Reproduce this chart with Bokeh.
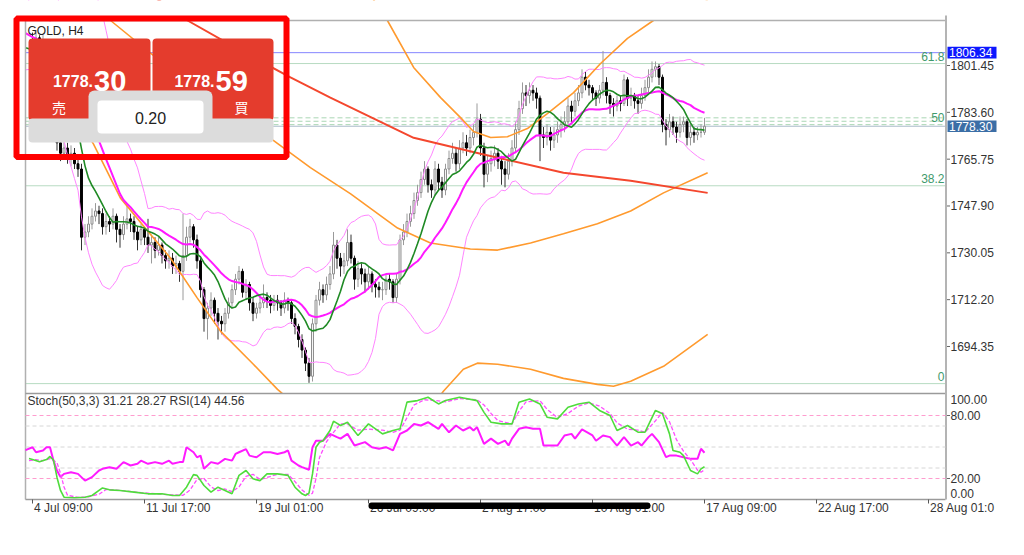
import numpy as np
import pandas as pd
from bokeh.plotting import figure
from bokeh.models import Range1d, ColumnDataSource
from bokeh.core.properties import value
from bokeh.embed import file_html
from bokeh.resources import INLINE

# ---------------------------------------------------------------- data
symbol_title = "GOLD, H4"
sub_title = "Stoch(50,3,3) 31.21 28.27 RSI(14) 44.56"

pre_close = [1828, 1825, 1822, 1824, 1820, 1817, 1819, 1821, 1818, 1815, 1812,
             1814, 1816, 1810, 1806, 1803, 1800, 1805, 1809, 1808, 1811, 1810]

closes = [
    1808, 1812, 1807, 1810, 1806, 1803, 1788, 1772, 1768, 1770,
    1766, 1768, 1764, 1762, 1736, 1738, 1741, 1744, 1746, 1745,
    1740, 1742, 1741, 1744, 1739, 1737, 1741, 1743, 1742, 1738,
    1735, 1739, 1736, 1733, 1734, 1731, 1733, 1729, 1727, 1728,
    1725, 1726, 1723, 1729, 1736, 1740, 1735, 1727, 1716, 1705,
    1709, 1712, 1707, 1704, 1703, 1707, 1711, 1716, 1720, 1723,
    1715, 1718, 1711, 1707, 1709, 1711, 1713, 1712, 1710, 1712,
    1711, 1709, 1712, 1711, 1705, 1702, 1697, 1693, 1688, 1683,
    1703, 1712, 1716, 1714, 1718, 1722, 1733, 1728, 1725, 1727,
    1734, 1728, 1720, 1724, 1722, 1719, 1722, 1718, 1717, 1716,
    1716, 1720, 1719, 1713, 1720, 1735, 1738, 1742, 1745, 1750,
    1753, 1758, 1762, 1756, 1754, 1762, 1757, 1754, 1762, 1766,
    1768, 1764, 1770, 1772, 1770, 1774, 1776, 1781, 1770, 1760,
    1764, 1766, 1768, 1765, 1762, 1760, 1765, 1770, 1777, 1785,
    1791, 1790, 1792, 1791, 1789, 1775, 1774, 1776, 1773, 1775,
    1777, 1779, 1780, 1786, 1784, 1788, 1791, 1797, 1794, 1793,
    1791, 1789, 1792, 1795, 1790, 1787, 1786, 1788, 1787, 1796,
    1789, 1790, 1788, 1787, 1790, 1793, 1797, 1800, 1801, 1797,
    1779, 1777, 1780, 1778, 1776, 1779, 1780, 1774, 1776, 1775,
    1776, 1776, 1778.30]

highs = [
    1814, 1815, 1813, 1813, 1811, 1808, 1805, 1790, 1775, 1773,
    1772, 1771, 1770, 1767, 1764, 1741, 1744, 1747, 1749, 1748,
    1747, 1745, 1744, 1747, 1745, 1741, 1744, 1749, 1745, 1744,
    1740, 1741, 1740, 1743, 1737, 1736, 1736, 1734, 1731, 1731,
    1730, 1729, 1727, 1745, 1740, 1743, 1741, 1737, 1728, 1717,
    1711, 1715, 1713, 1709, 1706, 1709, 1713, 1718, 1722, 1725,
    1724, 1720, 1719, 1713, 1711, 1714, 1718, 1715, 1714, 1714,
    1714, 1712, 1715, 1713, 1712, 1707, 1703, 1699, 1694, 1690,
    1705, 1714, 1719, 1718, 1721, 1725, 1738, 1735, 1730, 1730,
    1739, 1737, 1729, 1727, 1726, 1724, 1725, 1723, 1720, 1719,
    1719, 1722, 1722, 1720, 1722, 1737, 1741, 1745, 1748, 1753,
    1756, 1761, 1765, 1763, 1758, 1765, 1764, 1759, 1764, 1769,
    1772, 1770, 1773, 1776, 1775, 1777, 1779, 1787, 1783, 1772,
    1767, 1769, 1771, 1770, 1767, 1765, 1768, 1773, 1780, 1788,
    1795, 1794, 1795, 1794, 1793, 1790, 1778, 1779, 1778, 1778,
    1780, 1782, 1784, 1789, 1788, 1791, 1794, 1800, 1799, 1796,
    1794, 1792, 1794, 1807, 1797, 1791, 1789, 1790, 1790, 1798,
    1797, 1793, 1791, 1790, 1793, 1796, 1800, 1803, 1803, 1802,
    1798, 1781, 1783, 1782, 1780, 1782, 1782, 1781, 1779, 1778,
    1778, 1779, 1781.5]

lows = [
    1805, 1806, 1804, 1805, 1803, 1800, 1785, 1769, 1765, 1766,
    1764, 1763, 1762, 1759, 1731, 1733, 1736, 1739, 1742, 1741,
    1737, 1737, 1738, 1739, 1734, 1732, 1735, 1739, 1738, 1735,
    1731, 1733, 1733, 1730, 1726, 1728, 1729, 1726, 1724, 1724,
    1722, 1722, 1719, 1712, 1727, 1734, 1732, 1724, 1713, 1700,
    1697, 1706, 1703, 1697, 1699, 1700, 1705, 1709, 1714, 1718,
    1713, 1712, 1708, 1704, 1705, 1707, 1709, 1709, 1707, 1708,
    1708, 1706, 1707, 1708, 1703, 1699, 1694, 1690, 1685, 1680.5,
    1681, 1700, 1710, 1711, 1712, 1716, 1720, 1724, 1721, 1722,
    1725, 1726, 1716, 1717, 1718, 1715, 1716, 1715, 1713, 1713,
    1712, 1714, 1716, 1711, 1711, 1718, 1733, 1736, 1740, 1743,
    1748, 1751, 1756, 1753, 1751, 1752, 1754, 1751, 1752, 1760,
    1764, 1761, 1762, 1768, 1767, 1768, 1771, 1774, 1767, 1755,
    1757, 1761, 1763, 1762, 1756, 1755, 1758, 1763, 1768, 1775,
    1783, 1786, 1787, 1788, 1785, 1765, 1770, 1771, 1769, 1770,
    1772, 1774, 1776, 1778, 1780, 1782, 1786, 1789, 1792, 1790,
    1788, 1786, 1787, 1790, 1787, 1783, 1782, 1784, 1784, 1786,
    1786, 1786, 1785, 1783, 1785, 1788, 1791, 1795, 1797, 1794,
    1776, 1771, 1774, 1775, 1772, 1774, 1776, 1771, 1771, 1772,
    1773, 1774, 1775]

ask_price = 1778.59
lot_size = "0.20"
blue_level = 1806.34
fib_low, fib_high = 1680.2, 1877.6
fib_levels = [0.0, 38.2, 50.0, 61.8]
fib_text = ["0", "38.2", "50", "61.8"]
dash_levels = [1781.5, 1780.2]
price_ticks = [1694.35, 1712.20, 1730.05, 1747.90, 1765.75, 1783.60, 1801.45]
sub_ticks = [0, 20, 80, 100]

red_bar = [28, 44.3, 59.4, 73.7, 85.1, 108.9, 128, 151.7, 170.9, 192.9]
red_val = [1833.9, 1818.6, 1807.2, 1796.9, 1789.2, 1773.9, 1767.8, 1760.6, 1757.5, 1752.9]

ou_bar = [93.7, 101.4, 108.9, 116.6, 122.3, 126, 130.9, 135.7, 141.4, 147.1, 154.6,
          162.3, 170, 177.4, 185.1, 192.9]
ou_val = [1833.9, 1818.6, 1800.7, 1789.2, 1781.6, 1776.3, 1774.0, 1774.3, 1777.4, 1783.1,
          1791.1, 1802.2, 1811.8, 1818.6, 1823.0, 1826.0]

om_bar = [18, 22.3, 45.1, 68.9, 79.4, 90.9, 104.3, 113.7, 125.1, 132.9, 142.3, 151.7,
          161.4, 170.9, 180.3, 192.9]
om_val = [1824.4, 1818.6, 1793.8, 1772.8, 1762.5, 1752.5, 1739.5, 1733.8, 1731.5, 1731.1,
          1733.8, 1737.3, 1741.1, 1746.0, 1752.9, 1760.6]

ol_bar = [2.3, 9.4, 17.4, 25.1, 32.9, 39.4, 47.1, 53.7, 63.1, 70, 82.3, 99.4, 110.9,
          117.4, 123.1, 127.1, 132.9, 142.3, 151.7, 161.4, 166, 170.9, 180.3, 192.9]
ol_val = [1809.1, 1788.1, 1771.6, 1751.0, 1738.4, 1728.1, 1712.8, 1700.2, 1687.6, 1678.0,
          1663.9, 1658.2, 1665.8, 1677.3, 1685.7, 1688.0, 1687.6, 1685.7, 1682.2, 1679.9,
          1679.2, 1681.1, 1686.8, 1699.0]

rsi_bar = [-2, 0, 1, 3, 4, 5, 6, 7, 8, 9, 11, 13, 15, 17, 19, 20, 22, 24, 26, 28,
           30, 31, 33, 35, 37, 39, 40, 42, 43, 44, 46, 47, 48, 49, 51, 53, 55, 57, 58, 59,
           61, 62, 64, 66, 68, 70, 72, 73, 74, 76, 77, 79, 80, 81, 83, 85, 87, 88, 90, 92,
           95, 97, 99, 101, 103, 105, 107, 109, 111, 113, 116, 117, 119, 121, 123, 125, 126, 127, 129, 131,
           133, 135, 136, 137, 139, 141, 143, 145, 146, 148, 150, 152, 154, 155, 157, 160, 161, 163, 165, 167,
           169, 171, 173, 174, 176, 177, 179, 181, 182, 184, 186, 188, 190, 191, 192]
rsi_val = [47, 49.8, 45, 46.7, 49.8, 49.8, 37, 27.6, 21.3, 24.4, 26, 24.4, 18, 21.3, 27.6, 29.2, 30.8, 29.2, 35.6, 32.4,
           34, 37, 34, 35.6, 34, 37, 34, 35.6, 35.6, 49.8, 45, 40.2, 41.8, 29.2, 35.6, 34, 38.7, 37, 43.4, 45,
           48, 41.8, 40.2, 45, 45, 43.4, 45, 46.7, 37, 32.4, 30.8, 28.3, 49.8, 56, 56, 62.5, 59.4, 58, 62.5, 51.4,
           54.6, 49.8, 48.3, 49.8, 46.7, 62.5, 65.7, 72, 70.5, 73.6, 67.3, 72, 64, 70.5, 65.7, 68.9, 65.7, 68.9, 53, 58,
           53, 56, 51.4, 58, 67.3, 68.9, 67.3, 67.3, 51.4, 51.4, 51.4, 61, 62.5, 58, 66.7, 61, 56, 61, 59.4, 51.4,
           59.4, 51.4, 54.6, 51.4, 59.4, 62.5, 54.6, 40.3, 41.8, 41.8, 40.3, 38.7, 38.7, 48.3, 44.56]

k_bar = [-1, 0, 2, 4, 5, 6, 7, 8, 9, 12, 15, 17, 19, 20, 22, 25, 29, 33, 37, 40,
         42, 44, 46, 47, 49, 51, 53, 55, 57, 59, 61, 63, 65, 67, 70, 73, 75, 77, 78, 79,
         80, 81, 82, 83, 85, 86, 88, 90, 93, 96, 100, 103, 105, 107, 110, 113, 116, 118, 122, 127,
         129, 131, 134, 137, 139, 142, 145, 147, 150, 153, 156, 159, 162, 165, 167, 170, 173, 175, 178, 180,
         182, 183, 185, 186, 188, 190, 191, 192]
k_val = [39, 38, 36, 38, 41, 37.5, 21, 8.6, 2.2, 1.6, 2.2, 3.8, 8.6, 11, 9.2, 8.6, 7, 5.4, 5.4, 3.8,
         3.8, 11.7, 23.7, 23, 13.3, 7, 11.7, 8.6, 5.4, 23, 27.6, 19.7, 18, 24.4, 24.4, 23, 11.7, 5.4, 3.8, 6,
         24.4, 49.8, 54.6, 56, 65.7, 74.6, 70.5, 73.6, 61, 72, 62.5, 65.7, 67.3, 92.7, 94.2, 97.4, 91, 94.2, 97.4, 94.2,
         83, 73.6, 72, 72, 92.7, 95.8, 91, 78.4, 76.8, 87.9, 91, 92.7, 84.8, 80, 65.7, 70.5, 64.1, 64.1, 84.8, 81.6,
         62.5, 46.7, 45, 41.8, 27.6, 24.4, 29.2, 31.21]

d_bar = [-1, 1, 3, 5, 7, 8, 9, 10, 13, 16, 19, 21, 24, 27, 31, 35, 39, 43, 45, 47,
         49, 51, 53, 55, 57, 59, 61, 63, 65, 67, 70, 73, 75, 77, 79, 80, 81, 82, 84, 86,
         88, 90, 93, 96, 100, 103, 105, 107, 109, 112, 116, 118, 122, 127, 129, 131, 133, 137, 139, 141,
         145, 147, 150, 153, 156, 159, 162, 165, 167, 170, 173, 175, 178, 180, 182, 184, 186, 188, 190, 191, 192]
d_val = [37, 38, 37, 39, 35, 25, 12, 4, 2, 2.5, 5, 9.5, 9, 8, 6.5, 5.5, 4.5, 4, 9, 19,
         20, 12, 8.5, 10, 7.5, 12, 22, 24, 19, 21, 24, 24, 17, 9, 4, 6, 20, 40, 55, 64,
         72, 72, 66, 67, 66, 64, 66, 78, 90, 95, 94, 93, 96, 95, 90, 82, 75, 72, 84, 93,
         94, 86, 78, 82, 89, 92, 89, 82, 73, 67, 66, 64, 75, 83, 74, 57, 46, 38, 28, 26, 28.27]

x_tick_bars = [0, 32, 64, 96, 128, 160, 192, 224, 256]
x_tick_labels = ["4 Jul 09:00", "11 Jul 17:00", "19 Jul 01:00", "26 Jul 09:00", "2 Aug 17:00",
                 "10 Aug 01:00", "17 Aug 09:00", "22 Aug 17:00", "28 Aug 01:0"]

# ---------------------------------------------------------------- geometry helpers (page pixels)
X_PX0, BAR_PX = 32.0, 3.5
Y_PX0, Y_P0, PX_PER = 65.0, 1801.45, 2.6237
SUB_BOTTOM, SUB_K = 499.0, 1.05
CHART_L, CHART_R, CHART_T, SEP_Y = 25, 945, 20, 393
ORIGIN = 0  # canvas is placed at the page's top-left corner


def bx(px):
    return (px - X_PX0) / BAR_PX


def py(y):
    return Y_P0 + (Y_PX0 - y) / PX_PER


def sy(y):
    return (SUB_BOTTOM - y) / SUB_K


FONT = "Liberation Sans"
TXT = dict(text_font=value(FONT), text_font_size="12px", text_color="#333333",
           text_baseline="middle")

W, H = 1024, 552
p = figure(width=W, height=H, x_range=Range1d(bx(ORIGIN), bx(ORIGIN + W)),
           y_range=Range1d(py(ORIGIN + H), py(ORIGIN)), x_axis_location=None, y_axis_location=None,
           toolbar_location=None, output_backend="svg", min_border=0,
           background_fill_color="white", border_fill_color="white")
p.extra_y_ranges = {"sub": Range1d(sy(ORIGIN + H), sy(ORIGIN))}
p.outline_line_color = None
p.xgrid.visible = False
p.ygrid.visible = False

xl, xr = bx(CHART_L), bx(CHART_R)

# ---------------------------------------------------------------- main chart content
fib_prices = [fib_low + (fib_high - fib_low) * f / 100 for f in fib_levels]
solid_fib = [v for v, f in zip(fib_prices, fib_levels) if f != 50.0]
dashed = dash_levels + [v for v, f in zip(fib_prices, fib_levels) if f == 50.0]
p.segment(x0=[xl] * len(solid_fib), y0=solid_fib, x1=[xr] * len(solid_fib), y1=solid_fib,
          line_color="#b7dbc2", line_width=1)
p.segment(x0=[xl] * len(dashed), y0=dashed, x1=[xr] * len(dashed), y1=dashed,
          line_color="#a9d6b4", line_width=1, line_dash="5 3")
bid = closes[-1]
p.segment(x0=[xl], y0=[bid], x1=[xr], y1=[bid], line_color="#aabccb", line_width=1)
p.segment(x0=[xl], y0=[blue_level], x1=[xr], y1=[blue_level], line_color="#8585ff", line_width=1)
p.text(x=[bx(944)] * 4, y=[v + 7 / PX_PER for v in fib_prices], text=fib_text,
       text_align="right", text_baseline="middle", text_font=value(FONT),
       text_font_size="12px", text_color="#3f9a6c")

n = len(closes)
idx = np.arange(n)
c = np.array(closes, dtype=float)
o = np.array([pre_close[-1]] + closes[:-1], dtype=float)
bull = c >= o
src = ColumnDataSource(dict(
    x=idx, h=highs, l=lows, top=np.maximum(o, c), bot=np.minimum(o, c),
    wc=np.where(bull, "#9a9a9a", "#333333"),
    fc=np.where(bull, "white", "black"),
    lc=np.where(bull, "#8a8a8a", "black")))
p.segment(x0="x", y0="h", x1="x", y1="l", source=src, line_color="wc", line_width=1)
p.vbar(x="x", top="top", bottom="bot", width=0.55, source=src,
       fill_color="fc", line_color="lc", line_width=1)

full = pd.Series(pre_close + closes, dtype=float)
xs_full = np.arange(-len(pre_close), n)
mid = full.rolling(20).mean()
sd = full.rolling(20).std(ddof=0)
ma10 = full.rolling(10).mean()
m = xs_full >= -2
p.line(xs_full[m], (mid + 2 * sd)[m], line_color="#ff85ff", line_width=1)
p.line(xs_full[m], (mid - 2 * sd)[m], line_color="#ff85ff", line_width=1)
p.line(ou_bar, ou_val, line_color="#ff9a2e", line_width=1.6)
p.line(om_bar, om_val, line_color="#ff9a2e", line_width=1.6)
p.line(ol_bar, ol_val, line_color="#ff9a2e", line_width=1.6)
p.line(red_bar, red_val, line_color="#f4472e", line_width=2)
p.line(xs_full[m], mid[m], line_color="#ff1aff", line_width=2)
p.line(xs_full[m], ma10[m], line_color="#1f8a24", line_width=1.6)

# masks: keep the main chart inside its own pane
p.quad(left=[bx(ORIGIN)], right=[bx(ORIGIN + W)], top=[py(ORIGIN)], bottom=[py(CHART_T)],
       fill_color="white", line_color=None)
p.quad(left=[bx(ORIGIN)], right=[bx(ORIGIN + W)], top=[py(SEP_Y)], bottom=[py(ORIGIN + H)],
       fill_color="white", line_color=None)

# borders
p.segment(x0=[xl, xl], y0=[py(CHART_T), py(CHART_T)], x1=[xr, xl], y1=[py(CHART_T), py(SUB_BOTTOM)],
          line_color="#b0b0b0", line_width=1.5)
p.segment(x0=[xl, xl], y0=[py(SEP_Y), py(SUB_BOTTOM)], x1=[xr, xr], y1=[py(SEP_Y), py(SUB_BOTTOM)],
          line_color="#9a9a9a", line_width=1.5)
p.segment(x0=[bx(945.5)], y0=[py(CHART_T - 5)], x1=[bx(945.5)], y1=[py(SUB_BOTTOM)],
          line_color="#b4b4b4", line_width=2)

# ---------------------------------------------------------------- sub panel
for v in (30, 50, 70):
    p.segment(x0=[xl], y0=[v], x1=[xr], y1=[v], y_range_name="sub",
              line_color="#d6d6d6", line_dash="4 3", line_width=1)
for v in (20, 80):
    p.segment(x0=[xl], y0=[v], x1=[xr], y1=[v], y_range_name="sub",
              line_color="#ff9ccf", line_dash="4 3", line_width=1)
p.line(rsi_bar, rsi_val, y_range_name="sub", line_color="#ff1aff", line_width=2)
p.line(d_bar, d_val, y_range_name="sub", line_color="#ff4cff", line_width=1.3, line_dash="4 2")
p.line(k_bar, k_val, y_range_name="sub", line_color="#4fdc3c", line_width=1.6)
p.text(x=[bx(27)], y=[sy(400)], text=[sub_title], y_range_name="sub", text_align="left", **TXT)

# ---------------------------------------------------------------- scales (right and bottom)
tick_x0, tick_x1, lab_x = bx(946.5), bx(949.5), bx(950)
p.segment(x0=[tick_x0] * len(price_ticks), y0=price_ticks, x1=[tick_x1] * len(price_ticks),
          y1=price_ticks, line_color="#666666", line_width=1)
p.text(x=[lab_x] * len(price_ticks), y=price_ticks, text=[f"{v:.2f}" for v in price_ticks],
       text_align="left", **TXT)

inner = [v for v in sub_ticks if 0 < v < 100]
p.segment(x0=[tick_x0] * len(inner), y0=inner, x1=[tick_x1] * len(inner), y1=inner,
          y_range_name="sub", line_color="#666666", line_width=1)
sub_lab_y = [min(max(v, 6), 95) for v in sub_ticks]
p.text(x=[lab_x] * len(sub_ticks), y=sub_lab_y, text=[f"{v:.2f}" for v in sub_ticks],
       y_range_name="sub", text_align="left", **TXT)

p.segment(x0=x_tick_bars, y0=[0] * len(x_tick_bars), x1=x_tick_bars,
          y1=[sy(SUB_BOTTOM + 4)] * len(x_tick_bars), y_range_name="sub",
          line_color="#555555", line_width=1)
p.text(x=[b + 1.5 / BAR_PX for b in x_tick_bars], y=[sy(507.5)] * len(x_tick_bars),
       text=x_tick_labels, y_range_name="sub", text_align="left", **TXT)

# redaction stroke over part of the time scale
p.quad(left=[bx(368)], right=[bx(650)], top=[sy(502)], bottom=[sy(508.5)], y_range_name="sub",
       fill_color="black", line_color=None, border_radius=3)

# price tags on the scale
for lvl, col in [(blue_level, "#0c18ff"), (bid, "#3b6ea6")]:
    yc = Y_PX0 - (lvl - Y_P0) * PX_PER
    p.quad(left=[bx(947)], right=[bx(996)], top=[py(yc - 5.8)], bottom=[py(yc + 5.8)],
           fill_color=col, line_color=None)
    p.text(x=[bx(948.5)], y=[lvl], text=[f"{lvl:.2f}"], text_align="left",
           text_baseline="middle", text_font=value(FONT), text_font_size="12px",
           text_color="white")

p.text(x=[bx(27)], y=[py(30)], text=[symbol_title], text_align="left",
       text_baseline="middle", text_font=value(FONT), text_font_size="12px",
       text_color="#222222")

# ---------------------------------------------------------------- trade panel overlay
RED_BTN = "#e43c2d"
GRAY = "#dcdcdc"


def box(l, r, t, b):
    return dict(left=[bx(l)], right=[bx(r)], top=[py(t)], bottom=[py(b)])


p.quad(**box(28, 150, 38, 120), fill_color=RED_BTN, line_color=None, border_radius=4)
p.quad(**box(152, 273, 38, 120), fill_color=RED_BTN, line_color=None, border_radius=4)
p.quad(**box(88, 212, 90, 130), fill_color=GRAY, line_color=None, border_radius=6)
p.quad(**box(28, 273, 118, 142), fill_color=GRAY, line_color=None, border_radius=4)
p.quad(**box(97, 203, 100, 133), fill_color="white", line_color=None, border_radius=4)

bid_s = f"{bid:.2f}"
ask_s = f"{ask_price:.2f}"
for s, xr_px in [(bid_s, 92.5), (ask_s, 214)]:
    head, tail = s[:-2], s[-2:]
    p.text(x=[bx(xr_px)], y=[py(80)], text=[head], text_align="right",
           text_baseline="alphabetic", text_font=value(FONT), text_font_style="bold",
           text_font_size="16px", text_color="white")
    p.text(x=[bx(xr_px + 1)], y=[py(80)], text=[tail], text_align="left",
           text_baseline="alphabetic", text_font=value(FONT), text_font_style="bold",
           text_font_size="29px", text_color="white")
p.text(x=[bx(58.5), bx(241)], y=[py(106), py(106)], text=["売", "買"], text_align="center",
       text_baseline="middle", text_font=value("Noto Sans CJK JP"), text_font_size="14px",
       text_color="white")
p.text(x=[bx(150)], y=[py(117)], text=[lot_size], text_align="center",
       text_baseline="middle", text_font=value(FONT), text_font_size="16px",
       text_color="#222222")
p.quad(**box(16, 286, 18, 156.5), fill_color=None, line_color="#ff0000", line_width=6)

open("out.html", "w").write(file_html(p, INLINE))
